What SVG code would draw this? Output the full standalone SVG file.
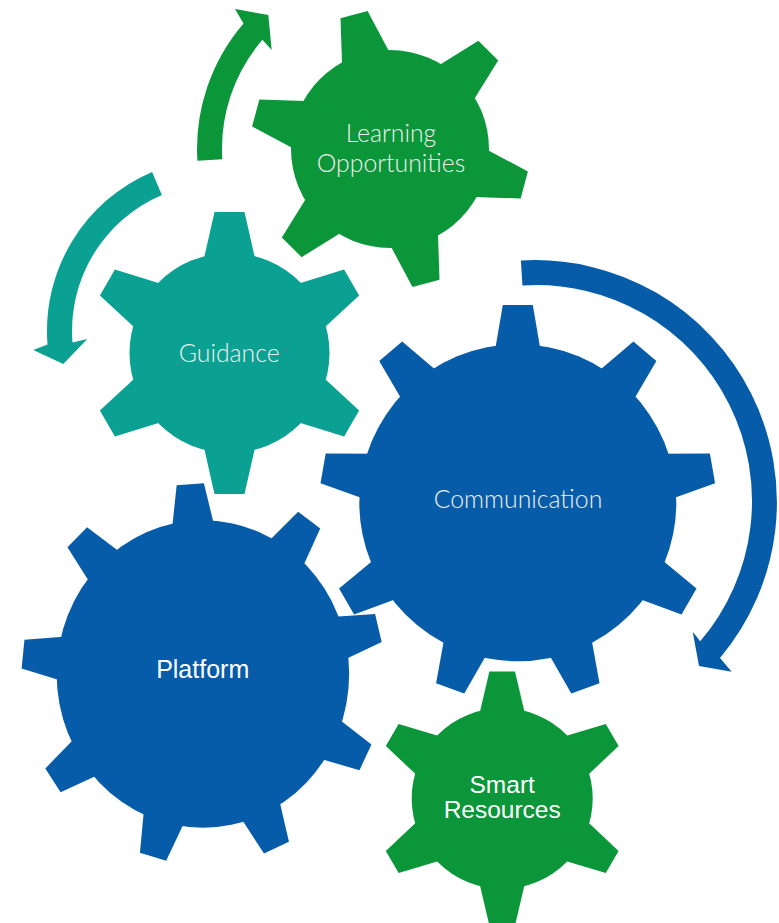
<svg xmlns="http://www.w3.org/2000/svg" xmlns:xlink="http://www.w3.org/1999/xlink" width="779" height="923" viewBox="0 0 779 923">
  <style>
    .green { fill: #0b9639; }
    .teal { fill: #0aa192; }
    .blue { fill: #075ca9; }
    .lbl-light { font-family: Lato, "Open Sans", "Liberation Sans", sans-serif; font-weight: 300; fill: #f0f0f0; text-anchor: middle; font-size: 24.8px; }
    .lbl-sans { font-family: "Liberation Sans", Arial, sans-serif; fill: #ffffff; text-anchor: middle; }
  </style>
  <defs>
    <polygon id="toothL" points="-27.7,-80 -14,-139 14,-139 27.7,-80"/>
    <polygon id="toothG" points="-28.8,-80 -15,-141 15,-141 28.8,-80"/>
    <polygon id="toothC" points="-24.9,-140 -15,-197.7 15,-197.7 24.9,-140"/>
    <polygon id="toothP" points="-24.2,-130 -14,-185.5 14,-185.5 24.2,-130"/>
    <polygon id="toothS" points="-26.2,-70 -12.8,-127 12.8,-127 26.2,-70"/>
  </defs>

  <g id="connectors">
    <path id="arrow-green" class="green" d="M197.4,160.8 A193,193 0 0 1 243.5,23.4 L235,9 L268.3,15 L271.7,50 L262.4,39.7 A168,168 0 0 0 222.3,159.3 Z"/>
    <path id="arrow-teal" class="teal" d="M152.1,171.9 A173,173 0 0 0 47.5,344.6 L33.3,350 L63.3,364 L87.3,339 L72.5,342.6 A148,148 0 0 1 161.9,194.9 Z"/>
    <path id="arrow-blue" class="blue" d="M520.9,260.5 A242,242 0 0 1 720,658 L731.7,671.7 L699,666 L692.7,631.7 L700.2,641.3 A216,216 0 0 0 522.4,285.4 Z"/>
  </g>

  <g id="learning-opportunities">
    <g class="green" transform="translate(390,149)">
      <circle r="99"/>
      <use xlink:href="#toothL" transform="rotate(-15)"/>
      <use xlink:href="#toothL" transform="rotate(45)"/>
      <use xlink:href="#toothL" transform="rotate(105)"/>
      <use xlink:href="#toothL" transform="rotate(165)"/>
      <use xlink:href="#toothL" transform="rotate(225)"/>
      <use xlink:href="#toothL" transform="rotate(285)"/>
    </g>
    <text class="lbl-light" x="391" y="142.3">Learning</text>
    <text class="lbl-light" x="391" y="172">Opportunities</text>
  </g>

  <g id="guidance">
    <g class="teal" transform="translate(229.5,353)">
      <circle r="100"/>
      <use xlink:href="#toothG" transform="rotate(0)"/>
      <use xlink:href="#toothG" transform="rotate(60)"/>
      <use xlink:href="#toothG" transform="rotate(120)"/>
      <use xlink:href="#toothG" transform="rotate(180)"/>
      <use xlink:href="#toothG" transform="rotate(240)"/>
      <use xlink:href="#toothG" transform="rotate(300)"/>
    </g>
    <text class="lbl-light" x="229.2" y="362.3">Guidance</text>
  </g>

  <g id="communication">
    <g class="blue" transform="translate(517.8,502.7)">
      <circle r="158.5"/>
      <use xlink:href="#toothC" transform="rotate(0)"/>
      <use xlink:href="#toothC" transform="rotate(40)"/>
      <use xlink:href="#toothC" transform="rotate(80)"/>
      <use xlink:href="#toothC" transform="rotate(120)"/>
      <use xlink:href="#toothC" transform="rotate(160)"/>
      <use xlink:href="#toothC" transform="rotate(200)"/>
      <use xlink:href="#toothC" transform="rotate(240)"/>
      <use xlink:href="#toothC" transform="rotate(280)"/>
      <use xlink:href="#toothC" transform="rotate(320)"/>
    </g>
    <text class="lbl-light" x="518" y="507.7">Communication</text>
  </g>

  <g id="platform">
    <g class="blue" transform="translate(202.9,674) scale(0.975,1.025)">
      <circle r="150"/>
      <use xlink:href="#toothP" transform="rotate(-4)"/>
      <use xlink:href="#toothP" transform="rotate(36)"/>
      <use xlink:href="#toothP" transform="rotate(76)"/>
      <use xlink:href="#toothP" transform="rotate(116)"/>
      <use xlink:href="#toothP" transform="rotate(156)"/>
      <use xlink:href="#toothP" transform="rotate(196)"/>
      <use xlink:href="#toothP" transform="rotate(236)"/>
      <use xlink:href="#toothP" transform="rotate(276)"/>
      <use xlink:href="#toothP" transform="rotate(316)"/>
    </g>
    <text class="lbl-sans" x="202.7" y="678.3" font-size="25">Platform</text>
  </g>

  <g id="smart-resources">
    <g class="green" transform="translate(502.2,798.5)">
      <circle r="90.5"/>
      <use xlink:href="#toothS" transform="rotate(0)"/>
      <use xlink:href="#toothS" transform="rotate(60)"/>
      <use xlink:href="#toothS" transform="rotate(120)"/>
      <use xlink:href="#toothS" transform="rotate(180)"/>
      <use xlink:href="#toothS" transform="rotate(240)"/>
      <use xlink:href="#toothS" transform="rotate(300)"/>
    </g>
    <text class="lbl-sans" x="502.2" y="792.7" font-size="24.5">Smart</text>
    <text class="lbl-sans" x="502.2" y="818.3" font-size="24.5">Resources</text>
  </g>
</svg>
